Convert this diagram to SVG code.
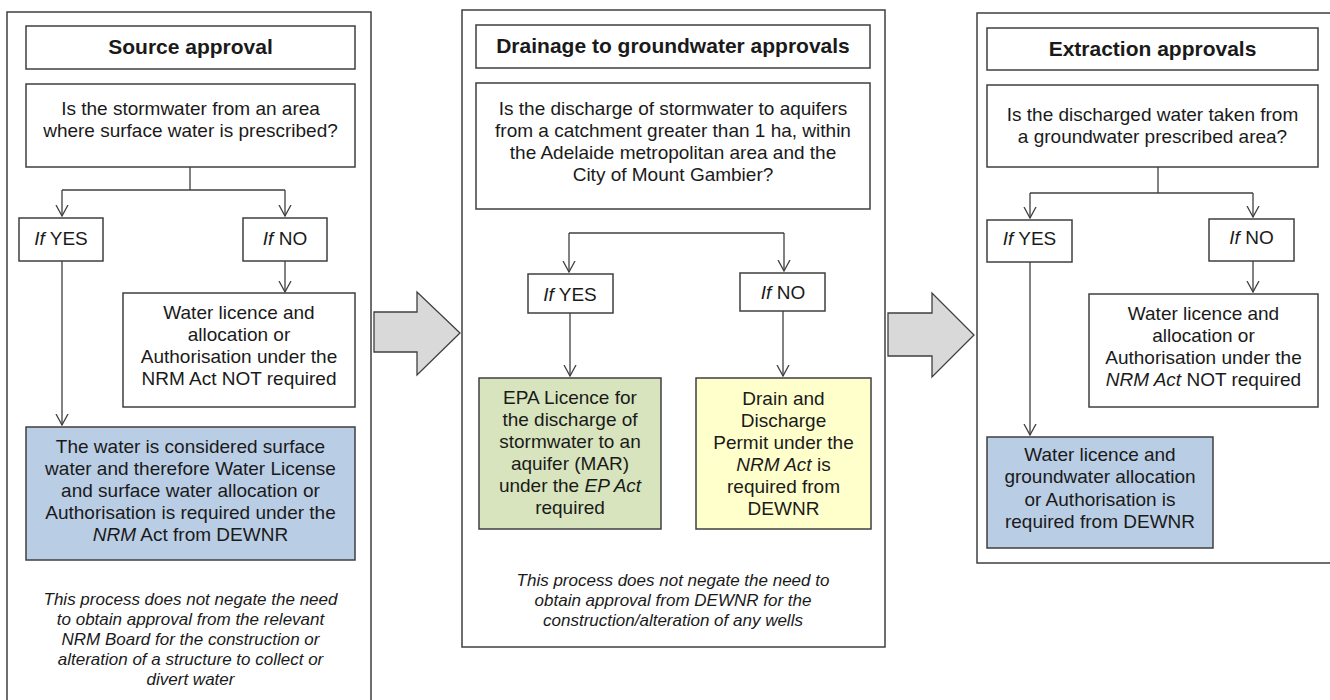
<svg xmlns="http://www.w3.org/2000/svg" width="1330" height="700" viewBox="0 0 1330 700">
<defs>
<style>
.panel{fill:#fff;stroke:#3f3f3f;stroke-width:1.5}
.box{fill:#fff;stroke:#3f3f3f;stroke-width:1.5}
.blue{fill:#b9cde5;stroke:#3f3f3f;stroke-width:1.5}
.green{fill:#d7e4bd;stroke:#3f3f3f;stroke-width:1.5}
.yellow{fill:#ffffcc;stroke:#3f3f3f;stroke-width:1.5}
.garrow{fill:#d9d9d9;stroke:#3f3f3f;stroke-width:1.3}
.con{fill:none;stroke:#3f3f3f;stroke-width:1.3}
text{font-family:"Liberation Sans",Arial,sans-serif;fill:#1a1a1a;text-anchor:middle}
.t{font-size:21px;font-weight:bold}
.b{font-size:19px}
.n{font-size:17px;font-style:italic}
.i{font-style:italic}
</style>
<marker id="ah" viewBox="0 0 12 14" refX="11" refY="7" markerWidth="12" markerHeight="14" markerUnits="userSpaceOnUse" orient="auto">
<path d="M0,1 L11,7 L0,13" fill="none" stroke="#3f3f3f" stroke-width="1.3"/>
</marker>
</defs>
<rect width="1330" height="700" fill="#fff"/>

<g id="panel1">
<rect class="panel" x="7" y="12" width="364" height="700"/>
</g>
<g id="panel2">
<rect class="panel" x="462" y="10" width="423" height="637"/>
</g>
<g id="panel3">
<rect class="panel" x="977" y="13" width="360" height="550"/>
</g>

<g id="bigarrow1"><path class="garrow" d="M374,312 L417,312 L417,292 L460,333 L417,375 L417,352 L374,352 Z"/></g>
<g id="bigarrow2"><path class="garrow" d="M888,313 L932,313 L932,293 L974,335 L932,377 L932,356 L888,356 Z"/></g>

<g id="connectors">
<path class="con" d="M190,167 V190"/>
<path class="con" d="M62,190 H285"/>
<path class="con" d="M62,190 V216" marker-end="url(#ah)"/>
<path class="con" d="M285,190 V216" marker-end="url(#ah)"/>
<path class="con" d="M285,261 V292" marker-end="url(#ah)"/>
<path class="con" d="M62,261 V425" marker-end="url(#ah)"/>

<path class="con" d="M569,233 H784"/>
<path class="con" d="M569,233 V272" marker-end="url(#ah)"/>
<path class="con" d="M784,233 V271" marker-end="url(#ah)"/>
<path class="con" d="M570,313 V376" marker-end="url(#ah)"/>
<path class="con" d="M783,311 V376" marker-end="url(#ah)"/>

<path class="con" d="M1158,167 V193"/>
<path class="con" d="M1030,193 H1253"/>
<path class="con" d="M1030,193 V218" marker-end="url(#ah)"/>
<path class="con" d="M1253,193 V217" marker-end="url(#ah)"/>
<path class="con" d="M1253,261 V292" marker-end="url(#ah)"/>
<path class="con" d="M1030,262 V435" marker-end="url(#ah)"/>
</g>

<g id="p1-title"><rect class="box" x="26" y="26" width="329" height="43"/><text class="t" x="190.5" y="54">Source approval</text></g>
<g id="p1-question"><rect class="box" x="26" y="84" width="329" height="83"/>
<text class="b" x="190.5" y="115">Is the stormwater from an area</text>
<text class="b" x="190.5" y="137">where surface water is prescribed?</text></g>
<g id="p1-yes"><rect class="box" x="19" y="218" width="84" height="43"/><text class="b" x="61" y="245"><tspan class="i">If</tspan> YES</text></g>
<g id="p1-no"><rect class="box" x="243" y="218" width="84" height="43"/><text class="b" x="285" y="245"><tspan class="i">If</tspan> NO</text></g>
<g id="p1-notreq"><rect class="box" x="123" y="293" width="232" height="114"/>
<text class="b" x="239" y="319">Water licence and</text>
<text class="b" x="239" y="341">allocation or</text>
<text class="b" x="239" y="363">Authorisation under the</text>
<text class="b" x="239" y="385">NRM Act NOT required</text></g>
<g id="p1-req"><rect class="blue" x="26" y="427" width="329" height="133"/>
<text class="b" x="190.5" y="453">The water is considered surface</text>
<text class="b" x="190.5" y="475">water and therefore Water License</text>
<text class="b" x="190.5" y="497">and surface water allocation or</text>
<text class="b" x="190.5" y="519">Authorisation is required under the</text>
<text class="b" x="190.5" y="541"><tspan class="i">NRM</tspan> Act from DEWNR</text></g>
<g id="p1-note">
<text class="n" x="190.5" y="605">This process does not negate the need</text>
<text class="n" x="190.5" y="625">to obtain approval from the relevant</text>
<text class="n" x="190.5" y="645">NRM Board for the construction or</text>
<text class="n" x="190.5" y="665">alteration of a structure to collect or</text>
<text class="n" x="190.5" y="685">divert water</text></g>

<g id="p2-title"><rect class="box" x="476" y="25" width="394" height="43"/><text class="t" x="673" y="53">Drainage to groundwater approvals</text></g>
<g id="p2-question"><rect class="box" x="476" y="83" width="394" height="126"/>
<text class="b" x="673" y="115">Is the discharge of stormwater to aquifers</text>
<text class="b" x="673" y="137">from a catchment greater than 1 ha, within</text>
<text class="b" x="673" y="159">the Adelaide metropolitan area and the</text>
<text class="b" x="673" y="181">City of Mount Gambier?</text></g>
<g id="p2-yes"><rect class="box" x="528" y="274" width="85" height="39"/><text class="b" x="570" y="301"><tspan class="i">If</tspan> YES</text></g>
<g id="p2-no"><rect class="box" x="740" y="273" width="85" height="38"/><text class="b" x="783" y="299"><tspan class="i">If</tspan> NO</text></g>
<g id="p2-epa"><rect class="green" x="479" y="378" width="182" height="151"/>
<text class="b" x="570" y="404">EPA Licence for</text>
<text class="b" x="570" y="426">the discharge of</text>
<text class="b" x="570" y="448">stormwater to an</text>
<text class="b" x="570" y="470">aquifer (MAR)</text>
<text class="b" x="570" y="492">under the <tspan class="i">EP Act</tspan></text>
<text class="b" x="570" y="514">required</text></g>
<g id="p2-drain"><rect class="yellow" x="696" y="378" width="175" height="151"/>
<text class="b" x="783.5" y="405">Drain and</text>
<text class="b" x="783.5" y="427">Discharge</text>
<text class="b" x="783.5" y="449">Permit under the</text>
<text class="b" x="783.5" y="471"><tspan class="i">NRM Act</tspan> is</text>
<text class="b" x="783.5" y="493">required from</text>
<text class="b" x="783.5" y="515">DEWNR</text></g>
<g id="p2-note">
<text class="n" x="673" y="586">This process does not negate the need to</text>
<text class="n" x="673" y="606">obtain approval from DEWNR for the</text>
<text class="n" x="673" y="626">construction/alteration of any wells</text></g>

<g id="p3-title"><rect class="box" x="987" y="28" width="331" height="42"/><text class="t" x="1152.5" y="56">Extraction approvals</text></g>
<g id="p3-question"><rect class="box" x="987" y="85" width="331" height="82"/>
<text class="b" x="1152.5" y="121">Is the discharged water taken from</text>
<text class="b" x="1152.5" y="143">a groundwater prescribed area?</text></g>
<g id="p3-yes"><rect class="box" x="987" y="220" width="85" height="42"/><text class="b" x="1029.5" y="245"><tspan class="i">If</tspan> YES</text></g>
<g id="p3-no"><rect class="box" x="1209" y="219" width="85" height="42"/><text class="b" x="1251.5" y="244"><tspan class="i">If</tspan> NO</text></g>
<g id="p3-notreq"><rect class="box" x="1089" y="294" width="229" height="113"/>
<text class="b" x="1203.5" y="320">Water licence and</text>
<text class="b" x="1203.5" y="342">allocation or</text>
<text class="b" x="1203.5" y="364">Authorisation under the</text>
<text class="b" x="1203.5" y="386"><tspan class="i">NRM Act</tspan> NOT required</text></g>
<g id="p3-req"><rect class="blue" x="987" y="437" width="226" height="111"/>
<text class="b" x="1100" y="461">Water licence and</text>
<text class="b" x="1100" y="483">groundwater allocation</text>
<text class="b" x="1100" y="506">or Authorisation is</text>
<text class="b" x="1100" y="528">required from DEWNR</text></g>
</svg>
